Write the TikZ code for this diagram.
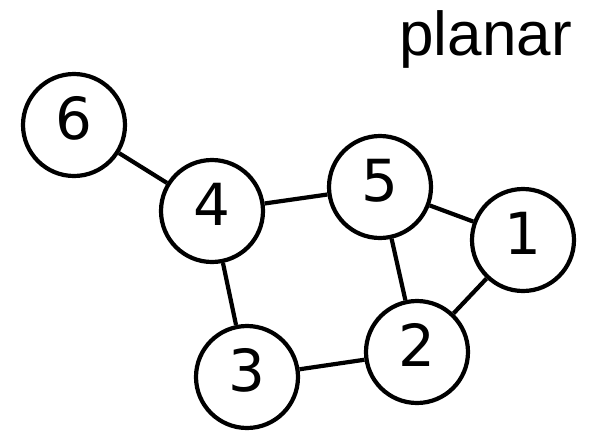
\documentclass[tikz,border=0pt]{standalone}
\usepackage{fontspec}
\setmainfont{DejaVu Sans}
\newfontfamily\lab{Liberation Sans}
\begin{document}
\begin{tikzpicture}[x=1pt,y=-1pt,
  vtx/.style={circle,draw,line width=4.2pt,minimum size=102pt,inner sep=0pt,text height=42pt,text depth=14pt,font=\fontsize{58}{58}\selectfont},
  edge/.style={line width=4.2pt}]
\useasboundingbox (0,0) rectangle (592,432);
\node[vtx] (n6) at (74,125) {6};
\node[vtx] (n4) at (212,211) {4};
\node[vtx] (n5) at (380,187) {5};
\node[vtx] (n1) at (523,240) {1};
\node[vtx] (n2) at (417,352) {2};
\node[vtx] (n3) at (247,377) {3};
\draw[edge] (n6) -- (n4);
\draw[edge] (n4) -- (n5);
\draw[edge] (n4) -- (n3);
\draw[edge] (n5) -- (n1);
\draw[edge] (n5) -- (n2);
\draw[edge] (n1) -- (n2);
\draw[edge] (n3) -- (n2);
\node[anchor=base east,inner sep=0pt,font=\lab\fontsize{62}{62}\selectfont] (t) at (572,55) {planar};
\end{tikzpicture}
\end{document}
